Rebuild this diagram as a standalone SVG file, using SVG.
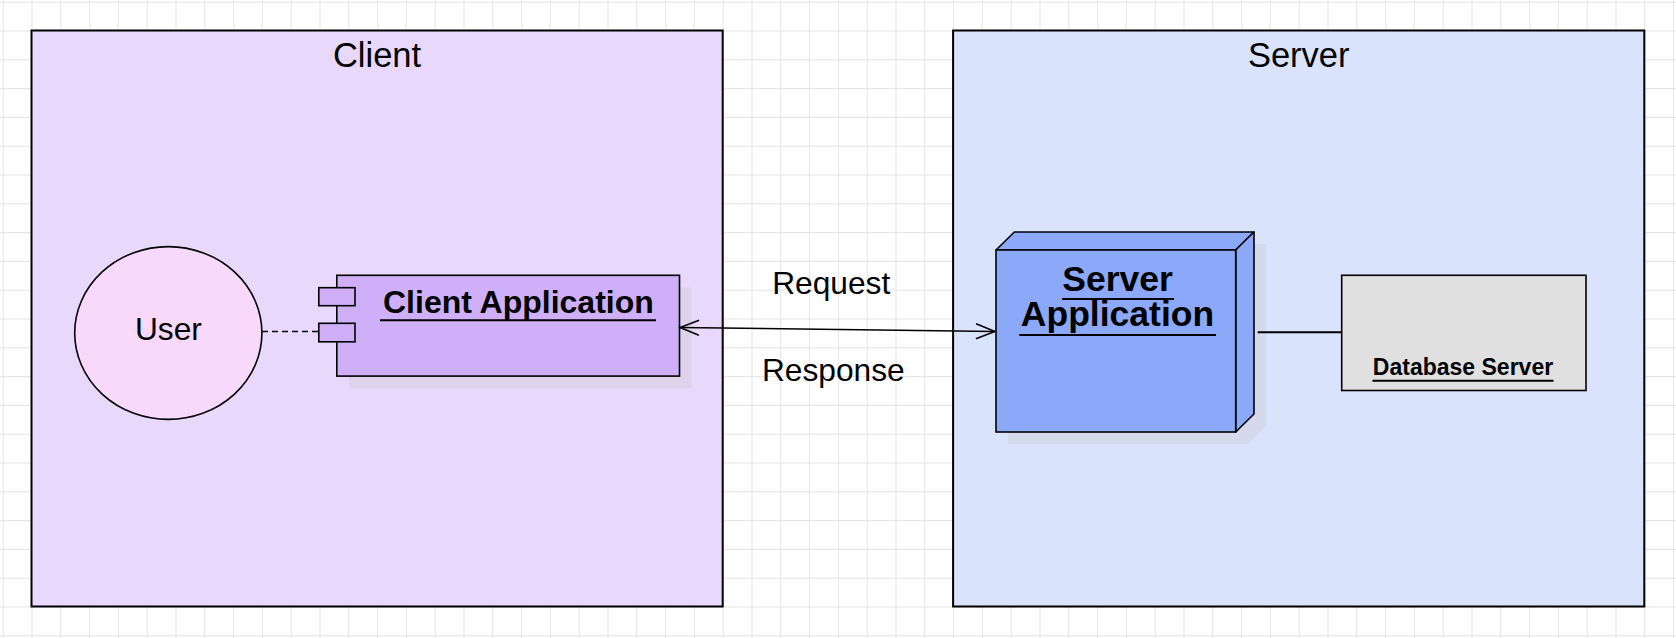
<svg xmlns="http://www.w3.org/2000/svg" width="1676" height="638" viewBox="0 0 1676 638">
<style>
.t{font-family:"Liberation Sans",Arial,sans-serif;fill:#000}
.b{font-weight:bold}
.ul{stroke:#000;stroke-width:2}
.edge{stroke:#000;fill:none}
.shadow{fill:#c8c8c8;fill-opacity:0.3}
</style>
<defs>
<pattern id="grid" patternUnits="userSpaceOnUse" x="2.7" y="1.7" width="28.8" height="28.8">
<path d="M0.5 0 V28.8 M0 0.5 H28.8" stroke="#e3e3e3" stroke-width="1" fill="none"/>
</pattern>
<marker id="open" viewBox="-21 -10 23 20" refX="0" refY="0" markerWidth="23" markerHeight="20" markerUnits="userSpaceOnUse" orient="auto-start-reverse">
<path d="M-19,-7.5 L0,0 L-19,7.5" fill="none" stroke="#000" stroke-width="1.6"/>
</marker>
</defs>
<rect width="1676" height="638" fill="#fff"/>
<rect width="1676" height="638" fill="url(#grid)"/>

<g id="client-container">
<rect x="31.5" y="30.5" width="691.2" height="576" fill="#e8d8fb" stroke="#000" stroke-width="2"/>
<text class="t" x="377" y="67.3" font-size="34.5" text-anchor="middle">Client</text>
</g>
<g id="server-container">
<rect x="953.1" y="30.5" width="691.2" height="576" fill="#dae3fc" stroke="#000" stroke-width="2"/>
<text class="t" x="1298.7" y="67.3" font-size="34.5" text-anchor="middle">Server</text>
</g>

<g id="user">
<ellipse cx="168.3" cy="333" rx="93.6" ry="86.4" fill="#f9d9fb" stroke="#000" stroke-width="1.6"/>
<text class="t" x="168.4" y="340" font-size="31.7" text-anchor="middle">User</text>
</g>

<g id="client-application">
<rect class="shadow" x="349" y="287.5" width="342.7" height="100.8"/>
<rect x="336.8" y="275.3" width="342.7" height="100.8" fill="#ceaff8" stroke="#000" stroke-width="1.6"/>
<rect x="318.8" y="287.7" width="36.2" height="18" fill="#ceaff8" stroke="#000" stroke-width="1.6"/>
<rect x="318.8" y="323.3" width="36.2" height="18.5" fill="#ceaff8" stroke="#000" stroke-width="1.6"/>
<text class="t b" x="518.4" y="313.3" font-size="32" text-anchor="middle">Client Application</text>
<line class="ul" x1="380" y1="320.3" x2="656" y2="320.3"/>
</g>

<g id="server-application">
<path class="shadow" d="M1008,262 L1026.3,244 L1266,244 L1266,426 L1247.7,444 L1008,444 Z"/>
<path d="M996,250 L1014.3,232 L1254,232 L1235.7,250 Z" fill="#8ba9f8" stroke="#000" stroke-width="1.6" stroke-linejoin="round"/>
<path d="M1235.7,250 L1254,232 L1254,414 L1235.7,432 Z" fill="#8ba9f8" stroke="#000" stroke-width="1.6" stroke-linejoin="round"/>
<rect x="996" y="250" width="239.7" height="182" fill="#8ba9f8" stroke="#000" stroke-width="1.6"/>
<text class="t b" x="1117.5" y="290.7" font-size="35.5" text-anchor="middle">Server</text>
<line class="ul" x1="1062" y1="299" x2="1174" y2="299"/>
<text class="t b" x="1117.5" y="326" font-size="35.5" text-anchor="middle">Application</text>
<line class="ul" x1="1019.3" y1="335" x2="1216" y2="335"/>
</g>

<g id="database-server">
<rect x="1341.7" y="275.3" width="244.3" height="115.2" fill="#e0e0e0" stroke="#000" stroke-width="1.6"/>
<text class="t b" x="1463" y="375" font-size="23" text-anchor="middle">Database Server</text>
<line class="ul" x1="1372.5" y1="380.7" x2="1553.5" y2="380.7"/>
</g>

<g id="connectors">
<line class="edge" x1="262" y1="331.5" x2="318.8" y2="331.5" stroke-width="1.5" stroke-dasharray="6 4"/>
<line class="edge" x1="680" y1="327.5" x2="995" y2="331.5" stroke-width="1.6" marker-start="url(#open)" marker-end="url(#open)"/>
<line class="edge" x1="1257.7" y1="332.3" x2="1341.7" y2="332.3" stroke-width="2"/>
<text class="t" x="831.2" y="294.3" font-size="31.7" text-anchor="middle">Request</text>
<text class="t" x="833.3" y="380.7" font-size="31.7" text-anchor="middle">Response</text>
</g>
</svg>
